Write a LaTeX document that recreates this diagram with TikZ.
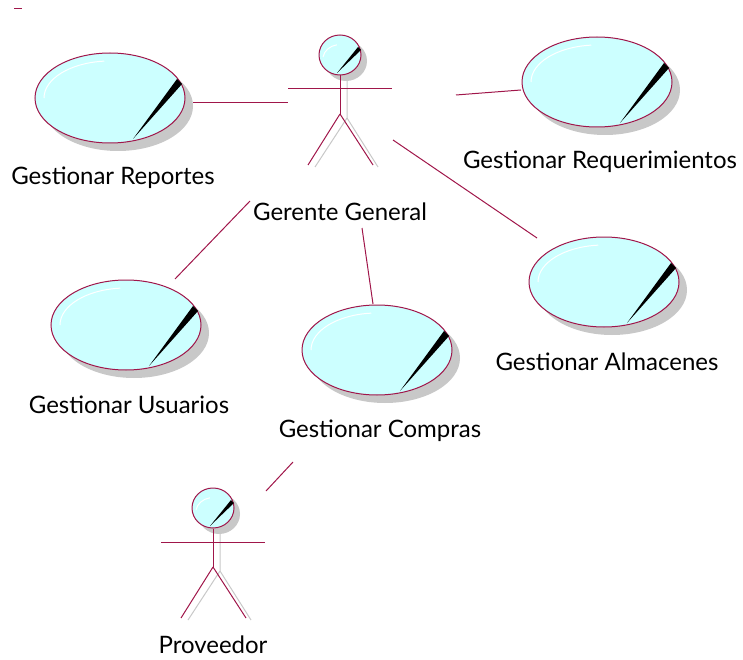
\documentclass[tikz,border=0pt]{standalone}
\usepackage{fontspec}
\setmainfont{Lato}
\usetikzlibrary{shapes.geometric}
\definecolor{ucline}{HTML}{A0164A}
\definecolor{ucfill}{HTML}{CCFFFF}
\definecolor{ucshadow}{HTML}{C8C8C8}
\tikzset{
  uc/.style={ellipse, draw=ucline, fill=ucfill, line width=1pt, minimum width=150pt, minimum height=90pt, inner sep=0pt},
  ucshade/.style={ellipse, fill=ucshadow, minimum width=150pt, minimum height=90pt, inner sep=0pt},
  head/.style={ellipse, draw=ucline, fill=ucfill, line width=1pt, minimum width=42pt, minimum height=40pt, inner sep=0pt},
  headshade/.style={ellipse, fill=ucshadow, minimum width=42pt, minimum height=40pt, inner sep=0pt},
  lbl/.style={font=\fontsize{24}{26}\selectfont, text=black, inner sep=0pt},
  assoc/.style={draw=ucline, line width=1pt},
  limb/.style={draw=ucline, line width=1pt},
  limbshade/.style={draw=ucshadow, line width=1pt},
  hl/.style={draw=white, line width=1pt},
}
\newcommand\myusecase[5]{%
  \node[ucshade] at (#2+8,#3+8) {};
  \node[uc] (#1) at (#2,#3) {};
  \fill[black] (#2+23,#3+41) -- (#2+72,#3-14) -- (#2+67,#3-19) -- cycle;
  \draw[hl] (#2-66,#3) arc[start angle=180, end angle=95, x radius=66pt, y radius=37pt];
  \node[lbl] (#1-l) at (#2+3,#5) {#4};
}
\newcommand\myactor[5]{%
  \node[headshade] at (#2+6,#3+6) {};
  \draw[limbshade] (#2+7,#3+20) -- (#2+7,#3+63) -- (#2-25,#3+112);
  \draw[limbshade] (#2+7,#3+63) -- (#2+38,#3+112);
  \node[head] (#1) at (#2,#3) {};
  \fill[black] (#2-3,#3+18) -- (#2+21,#3-5) -- (#2+18,#3-8) -- cycle;
  \draw[hl] (#2-17,#3+2) arc[start angle=170, end angle=100, x radius=17pt, y radius=15pt];
  \draw[limb] (#1.south) -- (#2,#3+59) coordinate (#1-hip);
  \draw[limb] (#2-52,#3+34) -- (#2+52,#3+34);
  \draw[limb] (#1-hip) -- (#2-32,#3+110);
  \draw[limb] (#1-hip) -- (#2+33,#3+110);
  \node[lbl] (#1-l) at (#2,#5) {#4};
}
\begin{document}
\begin{tikzpicture}[x=1pt,y=-1pt]
\useasboundingbox (0,0) rectangle (743,660);
% use cases
\myusecase{rep}{110}{98}{Gestionar Reportes}{178}
\myusecase{req}{597}{82}{Gestionar Requerimientos}{162}
\myusecase{usu}{126}{325}{Gestionar Usuarios}{405}
\myusecase{com}{377}{350}{Gestionar Compras}{431}
\myusecase{alm}{604}{282}{Gestionar Almacenes}{362}
% actors
\myactor{gg}{340}{55}{Gerente General}{212}
\myactor{prov}{213}{508}{Proveedor}{645}
% connector end points
\coordinate (a1) at (193,103); \coordinate (a2) at (288,103);
\coordinate (b1) at (456,95);  \coordinate (b2) at (521,90);
\coordinate (c1) at (393,140); \coordinate (c2) at (537,238);
\coordinate (d1) at (250,201); \coordinate (d2) at (175,279);
\coordinate (e1) at (362,228); \coordinate (e2) at (373,304);
\coordinate (f1) at (293,462); \coordinate (f2) at (266,491);
\coordinate (g1) at (14,9);    \coordinate (g2) at (22,9);
\draw[assoc] (a1) -- (a2);
\draw[assoc] (b1) -- (b2);
\draw[assoc] (c1) -- (c2);
\draw[assoc] (d1) -- (d2);
\draw[assoc] (e1) -- (e2);
\draw[assoc] (f1) -- (f2);
\draw[assoc] (g1) -- (g2);
\end{tikzpicture}
\end{document}
